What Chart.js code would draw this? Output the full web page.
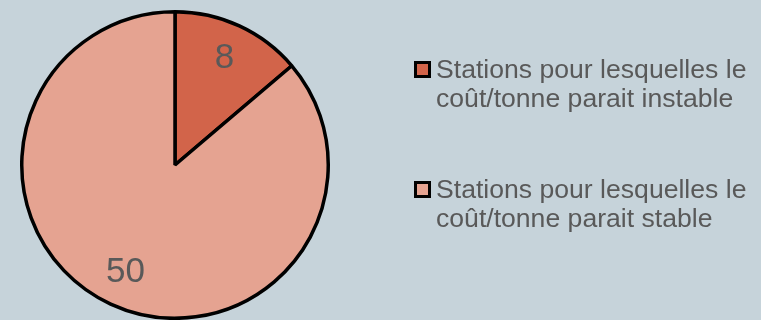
<!DOCTYPE html>
<html>
<head>
<meta charset="utf-8">
<script src="https://cdn.jsdelivr.net/npm/chart.js@4/dist/chart.umd.min.js"></script>
<style>
  html, body { margin: 0; padding: 0; background: #c6d3da; }
  #wrap { position: relative; width: 761px; height: 320px; overflow: hidden; }
  #c { position: absolute; left: 0; top: 0; }
  .leg { position: absolute; left: 414px; font-family: "Liberation Sans", Arial, sans-serif; font-size: 26.6px; color: #595959; line-height: 29px; }
  .leg .sw { position: absolute; left: 0; top: 6px; width: 11px; height: 11px; border: 3px solid #000; }
  .leg .tx { margin-left: 22px; white-space: nowrap; }
</style>
</head>
<body>
<div id="wrap">
  <canvas id="c" width="761" height="320"></canvas>
</div>
<script>
const categories = ["Stations pour lesquelles le|coût/tonne parait instable", "Stations pour lesquelles le|coût/tonne parait stable"];
const values = [8, 50];
const colors = ["#d2644a", "#e5a391"];

const labelPlugin = {
  id: 'sliceLabels',
  afterDatasetsDraw(chart) {
    const ctx = chart.ctx;
    const meta = chart.getDatasetMeta(0);
    ctx.save();
    ctx.fillStyle = '#595959';
    ctx.font = '35px "Liberation Sans", Arial, sans-serif';
    ctx.textAlign = 'center';
    ctx.textBaseline = 'middle';
    meta.data.forEach((arc, i) => {
      const mid = (arc.startAngle + arc.endAngle) / 2;
      const r = arc.outerRadius * 0.77;
      const x = arc.x + Math.cos(mid) * r;
      const y = arc.y + Math.sin(mid) * r;
      ctx.fillText(String(values[i]), x, y);
    });
    ctx.restore();
  }
};

new Chart(document.getElementById('c'), {
  type: 'pie',
  data: {
    labels: categories.map(s => s.replace('|', ' ')),
    datasets: [{
      data: values,
      backgroundColor: colors,
      borderColor: '#000000',
      borderWidth: 3.5,
      hoverOffset: 0
    }]
  },
  options: {
    responsive: false,
    animation: false,
    events: [],
    layout: { padding: { left: 20, right: 431, top: 10, bottom: 0 } },
    plugins: { legend: { display: false }, tooltip: { enabled: false } }
  },
  plugins: [labelPlugin]
});

// legend built from the same arrays
const wrap = document.getElementById('wrap');
const tops = [55, 175];
categories.forEach((cat, i) => {
  const d = document.createElement('div');
  d.className = 'leg';
  d.style.top = tops[i] + 'px';
  const sw = document.createElement('div');
  sw.className = 'sw';
  sw.style.background = colors[i];
  const tx = document.createElement('div');
  tx.className = 'tx';
  tx.innerHTML = cat.split('|').join('<br>');
  d.appendChild(sw);
  d.appendChild(tx);
  wrap.appendChild(d);
});
</script>
</body>
</html>
